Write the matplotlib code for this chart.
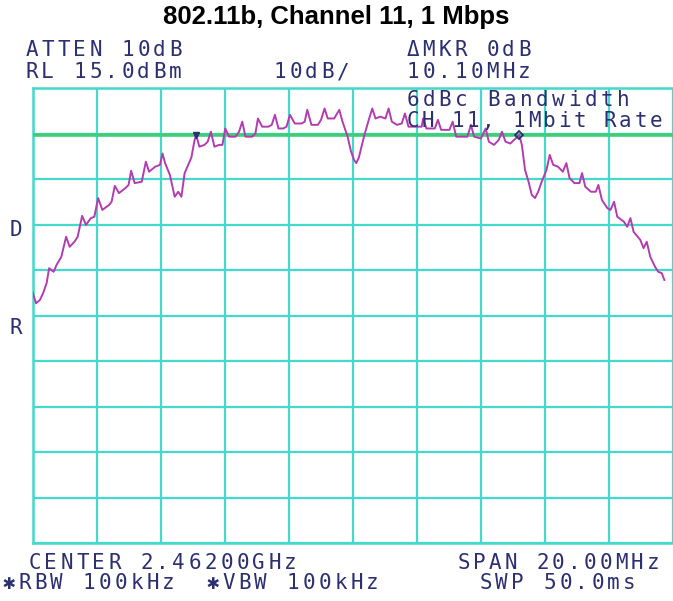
import numpy as np
import matplotlib
matplotlib.use("Agg")
from matplotlib import pyplot as plt

# spectrum trace: frequency offset from center (MHz), level (dBm)
trace = [
    (-10.00, -29.8), (-9.89, -32.3), (-9.77, -31.6), (-9.67, -30.1), (-9.56, -27.9),
    (-9.48, -24.6), (-9.41, -25.0), (-9.34, -25.4), (-9.25, -23.9), (-9.10, -22.1),
    (-8.95, -17.7), (-8.84, -19.9), (-8.69, -18.8), (-8.59, -17.7), (-8.45, -13.1),
    (-8.33, -15.1), (-8.18, -13.6), (-8.07, -13.3), (-7.95, -9.2), (-7.82, -11.8),
    (-7.61, -10.7), (-7.53, -10.0), (-7.43, -6.5), (-7.30, -8.1), (-7.10, -7.0),
    (-7.00, -6.3), (-6.92, -3.2), (-6.81, -5.9), (-6.59, -5.6), (-6.46, -1.2),
    (-6.36, -3.4), (-6.17, -2.3), (-6.02, -1.9), (-5.94, 0.6), (-5.86, -1.5),
    (-5.71, -4.1), (-5.56, -8.9), (-5.45, -7.8), (-5.35, -8.9), (-5.25, -3.7),
    (-5.04, -0.3), (-4.94, 3.5), (-4.89, 4.7), (-4.79, 2.1), (-4.63, 2.5),
    (-4.53, 3.2), (-4.43, 5.4), (-4.32, 2.1), (-4.17, 2.5), (-4.07, 2.5),
    (-3.98, 6.1), (-3.86, 4.3), (-3.66, 4.3), (-3.55, 5.4), (-3.45, 7.6),
    (-3.35, 4.3), (-3.14, 4.3), (-3.04, 5.0), (-2.96, 8.3), (-2.83, 6.5),
    (-2.63, 6.5), (-2.53, 6.9), (-2.43, 9.1), (-2.32, 6.1), (-2.17, 6.1),
    (-2.07, 6.5), (-1.96, 9.1), (-1.81, 7.2), (-1.60, 7.2), (-1.50, 7.6),
    (-1.42, 10.2), (-1.29, 6.9), (-1.09, 6.9), (-0.99, 8.0), (-0.88, 10.5),
    (-0.78, 8.3), (-0.58, 8.3), (-0.42, 10.2), (-0.32, 7.6), (-0.16, 4.3),
    (-0.06, 1.2), (0.04, -0.8), (0.11, -1.5), (0.19, -0.3), (0.35, 4.3),
    (0.50, 8.0), (0.61, 10.5), (0.71, 8.3), (0.86, 8.7), (1.02, 8.3),
    (1.12, 10.5), (1.22, 7.6), (1.38, 6.9), (1.53, 7.2), (1.63, 9.4),
    (1.74, 6.5), (1.94, 6.5), (2.15, 6.5), (2.20, 8.3), (2.30, 6.1),
    (2.56, 6.1), (2.66, 8.0), (2.76, 5.8), (3.02, 5.8), (3.12, 7.6),
    (3.23, 4.3), (3.38, 4.3), (3.58, 4.3), (3.69, 6.9), (3.79, 4.3),
    (4.00, 3.9), (4.15, 6.1), (4.25, 3.2), (4.41, 2.5), (4.56, 3.6),
    (4.66, 5.4), (4.77, 3.2), (4.92, 2.8), (5.08, 3.9), (5.20, 4.7),
    (5.28, 2.5), (5.38, -3.0), (5.49, -5.6), (5.59, -8.5), (5.69, -9.2),
    (5.79, -7.8), (5.90, -5.6), (6.05, -3.0), (6.15, 0.3), (6.26, -1.9),
    (6.41, -2.3), (6.56, -3.4), (6.67, -1.5), (6.77, -4.8), (6.92, -5.9),
    (7.08, -5.9), (7.16, -3.7), (7.26, -6.7), (7.44, -7.8), (7.59, -7.8),
    (7.67, -6.3), (7.78, -9.6), (7.95, -11.4), (8.05, -11.8), (8.16, -10.0),
    (8.26, -13.3), (8.47, -14.4), (8.57, -15.5), (8.67, -13.6), (8.77, -16.6),
    (8.98, -18.4), (9.08, -20.2), (9.18, -18.8), (9.29, -22.1), (9.44, -24.3),
    (9.54, -25.4), (9.65, -25.7), (9.73, -27.2),
]
trace_freq, trace_level = (np.array(v) for v in zip(*trace))

# delta marker pair (MHz, dBm) and 6 dBc display line
marker_freq = [-4.90, 5.20]
marker_level = [4.7, 4.7]
display_line = 4.6

ref_level = 15.0
db_per_div = 10.0
span = 20.0

title = "802.11b, Channel 11, 1 Mbps"
# annotations: (left px, center px, text, pitch)
annotations = [
    (25, 49.5, "ATTEN 10dB", 16),
    (25, 72.5, "RL 15.0dBm", 16),
    (273, 72.5, "10dB/", 16),
    (406, 49.5, "\u0394MKR 0dB", 16),
    (406, 72.5, "10.10MHz", 16),
    (406, 100, "6dBc Bandwidth", 16.2),
    (406, 121, "CH 11, 1Mbit Rate", 15.2),
    (9, 230, "D", 16),
    (9, 328, "R", 16),
    (28, 563, "CENTER 2.46200GHz", 16),
    (457, 563, "SPAN 20.00MHz", 15.8),
    (2, 583, "\u2731RBW 100kHz", 16),
    (206, 583, "\u2731VBW 100kHz", 16),
    (479, 583, "SWP 50.0ms", 16),
]

W, H = 673, 601
grid_col = "#45d8cc"
text_col = "#2c2f70"
trace_col = "#b23cb0"

fig = plt.figure(figsize=(W / 100, H / 100), dpi=100)
fig.patch.set_facecolor("white")

# graticule fills from x=32.5 to beyond the right edge (10 divisions of ~65 px)
x_right = -span / 2 + (W - 32.5) / 64.9 * 2
ax = fig.add_axes([32.5 / W, (H - 543) / H, 1 - 32.5 / W, (543 - 88) / H])
ax.set_xlim(-span / 2, x_right)
ax.set_ylim(ref_level - 10 * db_per_div, ref_level)
ax.set_xticks(np.arange(-10, 10.1, 2))
ax.set_yticks(np.arange(ref_level - 100, ref_level + 0.1, db_per_div))
ax.tick_params(length=0, labelbottom=False, labelleft=False)
ax.grid(True, color=grid_col, linewidth=1.6)
for side, sp in ax.spines.items():
    sp.set_color(grid_col)
    sp.set_linewidth(1.8)
ax.spines["right"].set_visible(False)

ax.axhline(display_line, color="#3ccf78", linewidth=2.6, zorder=3)
ax.plot(trace_freq, trace_level, color=trace_col, linewidth=1.4, zorder=4)
ax.plot(marker_freq[0], marker_level[0], marker="v", color=text_col,
        markersize=5, zorder=5)
ax.plot(marker_freq[1], marker_level[1], marker="D", markerfacecolor="none",
        markeredgecolor=text_col, markersize=4, markeredgewidth=1.3, zorder=5)

fig.text(0.5, 1 - 17 / H, title, ha="center", va="center",
         family="Liberation Sans", weight="bold", size=18.5, color="black")

# character-cell text like the analyzer's screen font
for x0, yc, s, pitch in annotations:
    for i, ch in enumerate(s):
        if ch == " ":
            continue
        fig.text((x0 + i * pitch + 6.5) / W, 1 - yc / H, ch, ha="center",
                 va="center", family=["DejaVu Sans Mono", "DejaVu Sans"],
                 size=15, color=text_col, zorder=6)

fig.savefig("out.png", dpi=100)
